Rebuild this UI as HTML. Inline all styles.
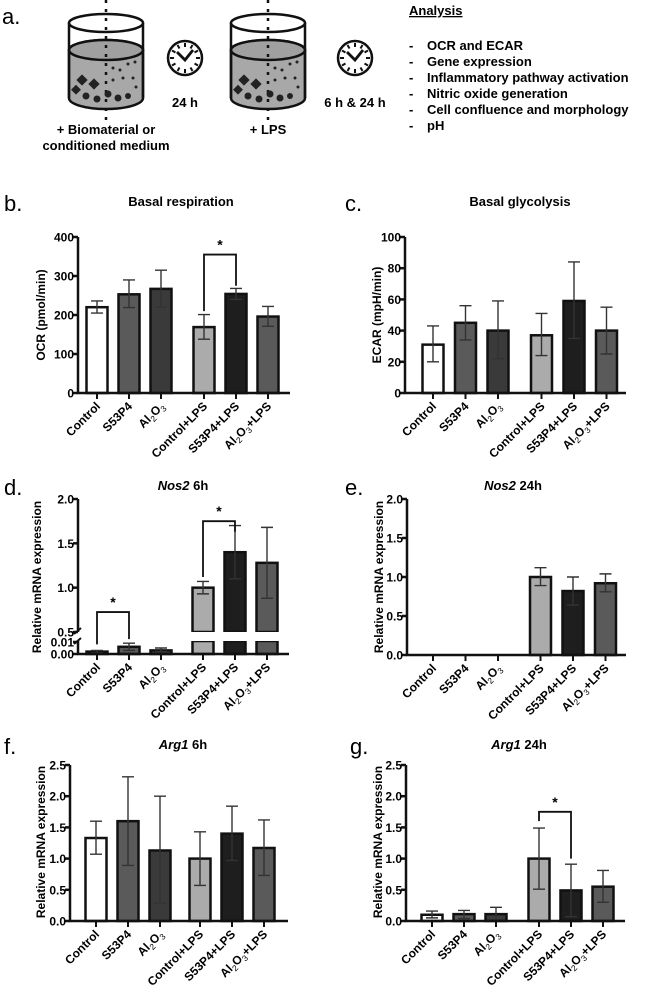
<!DOCTYPE html>
<html><head><meta charset="utf-8">
<style>
html,body{margin:0;padding:0;background:#fff;}
svg{display:block;font-family:"Liberation Sans",Arial,sans-serif;}
.b{font-weight:bold;}
</style></head>
<body>
<svg id="fig" width="647" height="999" viewBox="0 0 647 999" xmlns="http://www.w3.org/2000/svg">
<g id="schematic">
  <text x="2" y="24" font-size="22">a.</text>
  <g>
    <path d="M69,50 L69,98 A37,11 0 0 0 143,98 L143,50 A37,10 0 0 0 69,50 Z" fill="#a8a8a8" stroke="#111" stroke-width="2.5"/>
    <ellipse cx="106" cy="50" rx="37" ry="10" fill="#a0a0a0" stroke="#111" stroke-width="2.5"/>
    <line x1="69" y1="23" x2="69" y2="98" stroke="#111" stroke-width="2.5"/>
    <line x1="143" y1="23" x2="143" y2="98" stroke="#111" stroke-width="2.5"/>
    <ellipse cx="106" cy="23" rx="37" ry="9" fill="none" stroke="#111" stroke-width="2.5"/>
    <line x1="106" y1="0" x2="106" y2="120" stroke="#111" stroke-width="2.5" stroke-dasharray="3,6"/>
    <g fill="#222"><rect x="78" y="76" width="8" height="8" transform="rotate(45 82 80)"/><rect x="90" y="80" width="8" height="8" transform="rotate(45 94 84)"/><rect x="73" y="86" width="7" height="7" transform="rotate(45 76 89)"/>
    <circle cx="86" cy="96" r="3.5"/><circle cx="97" cy="99" r="3.5"/><circle cx="108" cy="94" r="3.5"/><circle cx="118" cy="98" r="3.5"/><circle cx="128" cy="96" r="3"/>
    <circle cx="113" cy="68" r="1.5"/><circle cx="120" cy="70" r="1.5"/><circle cx="128" cy="64" r="1.5"/><circle cx="135" cy="62" r="1.5"/><circle cx="123" cy="78" r="1.5"/><circle cx="133" cy="78" r="1.5"/><circle cx="136" cy="87" r="1.5"/><circle cx="113" cy="80" r="1.5"/></g>
  </g>
  <text x="106" y="134" font-size="13" class="b" text-anchor="middle">+ Biomaterial or</text>
  <text x="106" y="150" font-size="13" class="b" text-anchor="middle">conditioned medium</text>
  <g>
    <path d="M231,50 L231,98 A37,11 0 0 0 305,98 L305,50 A37,10 0 0 0 231,50 Z" fill="#a8a8a8" stroke="#111" stroke-width="2.5"/>
    <ellipse cx="268" cy="50" rx="37" ry="10" fill="#a0a0a0" stroke="#111" stroke-width="2.5"/>
    <line x1="231" y1="23" x2="231" y2="98" stroke="#111" stroke-width="2.5"/>
    <line x1="305" y1="23" x2="305" y2="98" stroke="#111" stroke-width="2.5"/>
    <ellipse cx="268" cy="23" rx="37" ry="9" fill="none" stroke="#111" stroke-width="2.5"/>
    <line x1="268" y1="0" x2="268" y2="120" stroke="#111" stroke-width="2.5" stroke-dasharray="3,6"/>
    <g fill="#222"><rect x="240" y="76" width="8" height="8" transform="rotate(45 244 80)"/><rect x="252" y="80" width="8" height="8" transform="rotate(45 256 84)"/><rect x="235" y="86" width="7" height="7" transform="rotate(45 238 89)"/>
    <circle cx="248" cy="96" r="3.5"/><circle cx="259" cy="99" r="3.5"/><circle cx="270" cy="94" r="3.5"/><circle cx="280" cy="98" r="3.5"/><circle cx="290" cy="96" r="3"/>
    <circle cx="275" cy="68" r="1.5"/><circle cx="282" cy="70" r="1.5"/><circle cx="290" cy="64" r="1.5"/><circle cx="297" cy="62" r="1.5"/><circle cx="285" cy="78" r="1.5"/><circle cx="295" cy="78" r="1.5"/><circle cx="298" cy="87" r="1.5"/><circle cx="275" cy="80" r="1.5"/></g>
  </g>
  <text x="268" y="134" font-size="13" class="b" text-anchor="middle">+ LPS</text>
  <g id="clock1"></g>
  <g id="clock2"></g>
  <text x="185" y="107" font-size="13" class="b" text-anchor="middle">24 h</text>
  <text x="355" y="107" font-size="13" class="b" text-anchor="middle">6 h &amp; 24 h</text>
  <text x="409" y="15" font-size="13" class="b" text-decoration="underline">Analysis</text>
  <g font-size="13" class="b">
    <text x="409" y="50">-</text><text x="427" y="50">OCR and ECAR</text>
    <text x="409" y="66">-</text><text x="427" y="66">Gene expression</text>
    <text x="409" y="82">-</text><text x="427" y="82">Inflammatory pathway activation</text>
    <text x="409" y="98">-</text><text x="427" y="98">Nitric oxide generation</text>
    <text x="409" y="114">-</text><text x="427" y="114">Cell confluence and morphology</text>
    <text x="409" y="130">-</text><text x="427" y="130">pH</text>
  </g>
</g>
</svg>
<script>
var NS = "http://www.w3.org/2000/svg";
var svg = document.getElementById('fig');
function mk(tag, attrs, parent) {
  var e = document.createElementNS(NS, tag);
  for (var k in attrs) e.setAttribute(k, attrs[k]);
  (parent || svg).appendChild(e);
  return e;
}
[['clock1',185,58],['clock2',355,58]].forEach(function(c){
  var g = document.getElementById(c[0]);
  mk('circle',{cx:c[1],cy:c[2],r:17,fill:'#fff',stroke:'#111','stroke-width':2.5},g);
  for (var i=0;i<12;i++){var a=i*Math.PI/6;
    mk('line',{x1:c[1]+Math.cos(a)*11,y1:c[2]+Math.sin(a)*11,x2:c[1]+Math.cos(a)*15,y2:c[2]+Math.sin(a)*15,stroke:'#111','stroke-width':2},g);}
  mk('polyline',{points:(c[1]-8)+','+(c[2]-6)+' '+c[1]+','+(c[2]+2)+' '+(c[1]+8)+','+(c[2]-8),fill:'none',stroke:'#111','stroke-width':2.8},g);
});

// ---------- DATA ----------
var categories = ['Control','S53P4','Al2O3','Control+LPS','S53P4+LPS','Al2O3+LPS'];
var fills = ['#ffffff','#5a5a5a','#3a3a3a','#ababab','#1e1e1e','#5a5a5a'];
var ocrMean = [220, 253, 267, 169, 254, 196];
var ocrLow  = [205, 219, 220, 138, 240, 171];
var ocrHigh = [236, 290, 315, 201, 268, 222];
var ocrTicks = [0, 100, 200, 300, 400];
var ecarMean = [31, 45, 40, 37, 59, 40];
var ecarLow  = [20, 34, 22, 24, 35, 25];
var ecarHigh = [43, 56, 59, 51, 84, 55];
var ecarTicks = [0, 20, 40, 60, 80, 100];
var nos6Mean = [0.002, 0.006, 0.003, 1.00, 1.40, 1.28];
var nos6Low  = [0.001, 0.003, 0.002, 0.93, 1.10, 0.88];
var nos6High = [0.003, 0.009, 0.005, 1.07, 1.70, 1.68];
var nos6UpperTicks = ['0.5','1.0','1.5','2.0'];
var nos6LowerTicks = ['0.00','0.01'];
var nos24Mean = [null, null, null, 1.00, 0.82, 0.92];
var nos24Low  = [null, null, null, 0.89, 0.64, 0.81];
var nos24High = [null, null, null, 1.12, 1.00, 1.04];
var relTicks2 = ['0.0','0.5','1.0','1.5','2.0'];
var arg6Mean = [1.33, 1.60, 1.13, 1.00, 1.40, 1.17];
var arg6Low  = [1.07, 0.89, 0.28, 0.57, 0.97, 0.73];
var arg6High = [1.60, 2.31, 2.00, 1.43, 1.84, 1.62];
var arg24Mean = [0.10, 0.11, 0.11, 1.00, 0.49, 0.55];
var arg24Low  = [0.05, 0.04, 0.00, 0.51, 0.07, 0.30];
var arg24High = [0.16, 0.17, 0.22, 1.49, 0.91, 0.81];
var relTicks25 = ['0.0','0.5','1.0','1.5','2.0','2.5'];
// significance brackets: [from index, to index, top value, left-end value, right-end value]
var ocrSig = [3, 4, 355, 210, 275];
var nos6Sig = [3, 4, 1.75, 1.12, 1.63];
var nos6LowSig = [0, 1, 0.725, 0.008, 0.42];
var arg24Sig = [3, 4, 1.75, 1.60, 1.00];

function labelText(g, name, x, y, anchor, size, transform) {
  var t = mk('text', {x:x, y:y, 'text-anchor':anchor, 'font-size':size, 'font-weight':'bold'}, g);
  if (transform) t.setAttribute('transform', transform);
  var m = name.match(/^Al2O3(.*)$/);
  if (m) {
    t.appendChild(document.createTextNode('Al'));
    var s1 = mk('tspan',{'font-size':size*0.7,'font-weight':'normal',dy:3},t); s1.textContent='2';
    var s2 = mk('tspan',{dy:-3},t); s2.textContent='O';
    var s3 = mk('tspan',{'font-size':size*0.7,'font-weight':'normal',dy:3},t); s3.textContent='3';
    var s4 = mk('tspan',{dy:-3},t); s4.textContent=m[1];
  } else t.textContent = name;
  return t;
}

function chart(o) {
  var g = mk('g', {});
  
  
  var xpos = function(i){ return o.ax + o.first + i*o.step + (i>=3 ? o.gap : 0); };
  var yv = o.yscale;
  var pl = mk('text',{x:o.lx, y:o.ty+5, 'font-size':22}, g); pl.textContent = o.letter;
  
  
  var tt = mk('text',{x:o.tx, y:o.ty, 'font-size':13, 'font-weight':'bold', 'text-anchor':'middle'}, g);
  
  
  if (o.titleIt) { var ti = mk('tspan',{'font-style':'italic'},tt); ti.textContent = o.titleIt; var tr = mk('tspan',{},tt); tr.textContent = o.title; }
  else tt.textContent = o.title;
  var yt = mk('text',{x:0,y:0,'font-size':12,'font-weight':'bold','text-anchor':'middle',transform:'translate('+o.ytx+','+o.yty+') rotate(-90)'}, g);
  yt.textContent = o.ytitle;
  
  
  for (var i=0;i<6;i++) {
    if (o.mean[i] === null) continue;
    var x = xpos(i), top = yv(o.mean[i]), bot = yv(0);
    if (o.broken && o.mean[i] > 0.5) {
      var r1 = mk('rect',{x:x-10.5,y:top,width:21,height:o.breakTop-top,fill:fills[i],stroke:'#111','stroke-width':2.5},g);
      
      
      var r2 = mk('rect',{x:x-10.5,y:o.breakBot,width:21,height:bot-o.breakBot,fill:fills[i],stroke:'#111','stroke-width':2.5},g);
      
      
      mk('rect',{x:x-13,y:o.breakTop,width:26,height:o.breakBot-o.breakTop,fill:'#fff'},g);
    } else {
      var r = mk('rect',{x:x-10.5,y:top,width:21,height:Math.max(0,bot-top),fill:fills[i],stroke:'#111','stroke-width':2.5},g);
      
      
    }
  }
  for (var j=0;j<6;j++) {
    if (o.mean[j] === null) continue;
    var xe = xpos(j), yl = yv(o.low[j]), yh = yv(o.high[j]);
    var eb = mk('path',{d:'M'+xe+','+yl+'V'+yh+'M'+(xe-6)+','+yh+'H'+(xe+6)+'M'+(xe-6)+','+yl+'H'+(xe+6),stroke:'#333','stroke-width':1.4,fill:'none'},g);
    
    
  }
  var y0 = yv(0);
  var yax = mk('path',{d:'M'+o.ax+','+o.yTopPx+'V'+y0, stroke:'#111','stroke-width':2.5,fill:'none'},g);
  
  
  var xax = mk('path',{d:'M'+(o.ax-1)+','+y0+'H'+o.axEnd, stroke:'#111','stroke-width':2.5,fill:'none'},g);
  
  
  if (o.broken) {
    mk('rect',{x:o.ax-3,y:o.breakTop,width:6,height:o.breakBot-o.breakTop,fill:'#fff'},g);
    mk('path',{d:'M'+(o.ax-4)+','+(o.breakTop+2)+'L'+(o.ax+3)+','+(o.breakTop-4)+'M'+(o.ax-4)+','+(o.breakBot+3)+'L'+(o.ax+3)+','+(o.breakBot-3),stroke:'#111','stroke-width':2},g);
  }
  o.ticks.forEach(function(tv){
    var v = parseFloat(tv), ty = o.tickY ? o.tickY(tv) : yv(v);
    mk('line',{x1:o.ax-5,y1:ty,x2:o.ax,y2:ty,stroke:'#111','stroke-width':2.5},g);
    var tl = mk('text',{x:o.ax-4,y:ty+4.5,'font-size':12,'font-weight':'bold','text-anchor':'end'},g);
    tl.textContent = tv;
    
    
  });
  for (var k=0;k<6;k++) {
    var xc = xpos(k);
    mk('line',{x1:xc,y1:y0,x2:xc,y2:y0+6,stroke:'#111','stroke-width':2},g);
    var xl = labelText(g, categories[k], xc+4, y0+14, 'end', 12, 'rotate(-45 '+(xc+4)+' '+(y0+14)+')');
    
    
  }
  (o.sigs||[]).forEach(function(s){
    var xa = xpos(s[0]), xb = xpos(s[1]), yt2 = yv(s[2]);
    var br = mk('path',{d:'M'+xa+','+yv(s[3])+'V'+yt2+'H'+xb+'V'+yv(s[4]),stroke:'#111','stroke-width':1.8,fill:'none'},g);
    
    
    var st = mk('text',{x:(xa+xb)/2,y:yt2-5,'font-size':14,'font-weight':'bold','text-anchor':'middle'},g);
    st.textContent = '*';
    
    
  });
}
function lin(v0, p0, v1, p1){ return function(v){ return p0 + (v - v0) * (p1 - p0) / (v1 - v0); }; }

chart({name:'chart-basal-respiration', letter:'b.', lx:4, tx:181, ty:206, title:'Basal respiration',
  ax:78, first:19, step:32, gap:11, axEnd:290, yTopPx:237, yscale:lin(0,393,400,237),
  mean:ocrMean, low:ocrLow, high:ocrHigh, ticks:ocrTicks.map(String), ytitle:'OCR (pmol/min)', ytx:45, yty:315, sigs:[ocrSig]});
chart({name:'chart-basal-glycolysis', letter:'c.', lx:345, tx:520, ty:206, title:'Basal glycolysis',
  ax:405, first:28, step:32.5, gap:11, axEnd:626, yTopPx:237, yscale:lin(0,393,100,237),
  mean:ecarMean, low:ecarLow, high:ecarHigh, ticks:ecarTicks.map(String), ytitle:'ECAR (mpH/min)', ytx:381, yty:315});
var nosUp = lin(0.5,632,2.0,499), nosLow = lin(0,654,0.01,642);
chart({name:'chart-nos2-6h', letter:'d.', lx:4, tx:183, ty:490, titleIt:'Nos2', title:' 6h',
  ax:78, first:19, step:32, gap:10, axEnd:289, yTopPx:499,
  yscale:function(v){ return v > 0.02 ? nosUp(v) : nosLow(v); }, broken:true, breakTop:632, breakBot:641,
  mean:nos6Mean, low:nos6Low, high:nos6High, ticks:nos6UpperTicks.concat(nos6LowerTicks),
  tickY:function(t){ return t.length>3 ? nosLow(parseFloat(t)) : nosUp(parseFloat(t)); },
  ytitle:'Relative mRNA expression', ytx:41, yty:577, sigs:[nos6Sig, nos6LowSig]});
chart({name:'chart-nos2-24h', letter:'e.', lx:345, tx:513, ty:490, titleIt:'Nos2', title:' 24h',
  ax:407, first:26, step:32.5, gap:10, axEnd:626, yTopPx:499, yscale:lin(0,655,2,499),
  mean:nos24Mean, low:nos24Low, high:nos24High, ticks:relTicks2, ytitle:'Relative mRNA expression', ytx:383, yty:577});
chart({name:'chart-arg1-6h', letter:'f.', lx:4, tx:183, ty:749, titleIt:'Arg1', title:' 6h',
  ax:70, first:26, step:32, gap:8, axEnd:288, yTopPx:765, yscale:lin(0,921,2.5,765),
  mean:arg6Mean, low:arg6Low, high:arg6High, ticks:relTicks25, ytitle:'Relative mRNA expression', ytx:45, yty:842});
chart({name:'chart-arg1-24h', letter:'g.', lx:350, tx:519, ty:749, titleIt:'Arg1', title:' 24h',
  ax:406, first:26, step:32, gap:11, axEnd:625, yTopPx:765, yscale:lin(0,921,2.5,765),
  mean:arg24Mean, low:arg24Low, high:arg24High, ticks:relTicks25, ytitle:'Relative mRNA expression', ytx:382, yty:842, sigs:[arg24Sig]});
</script>
</body></html>
